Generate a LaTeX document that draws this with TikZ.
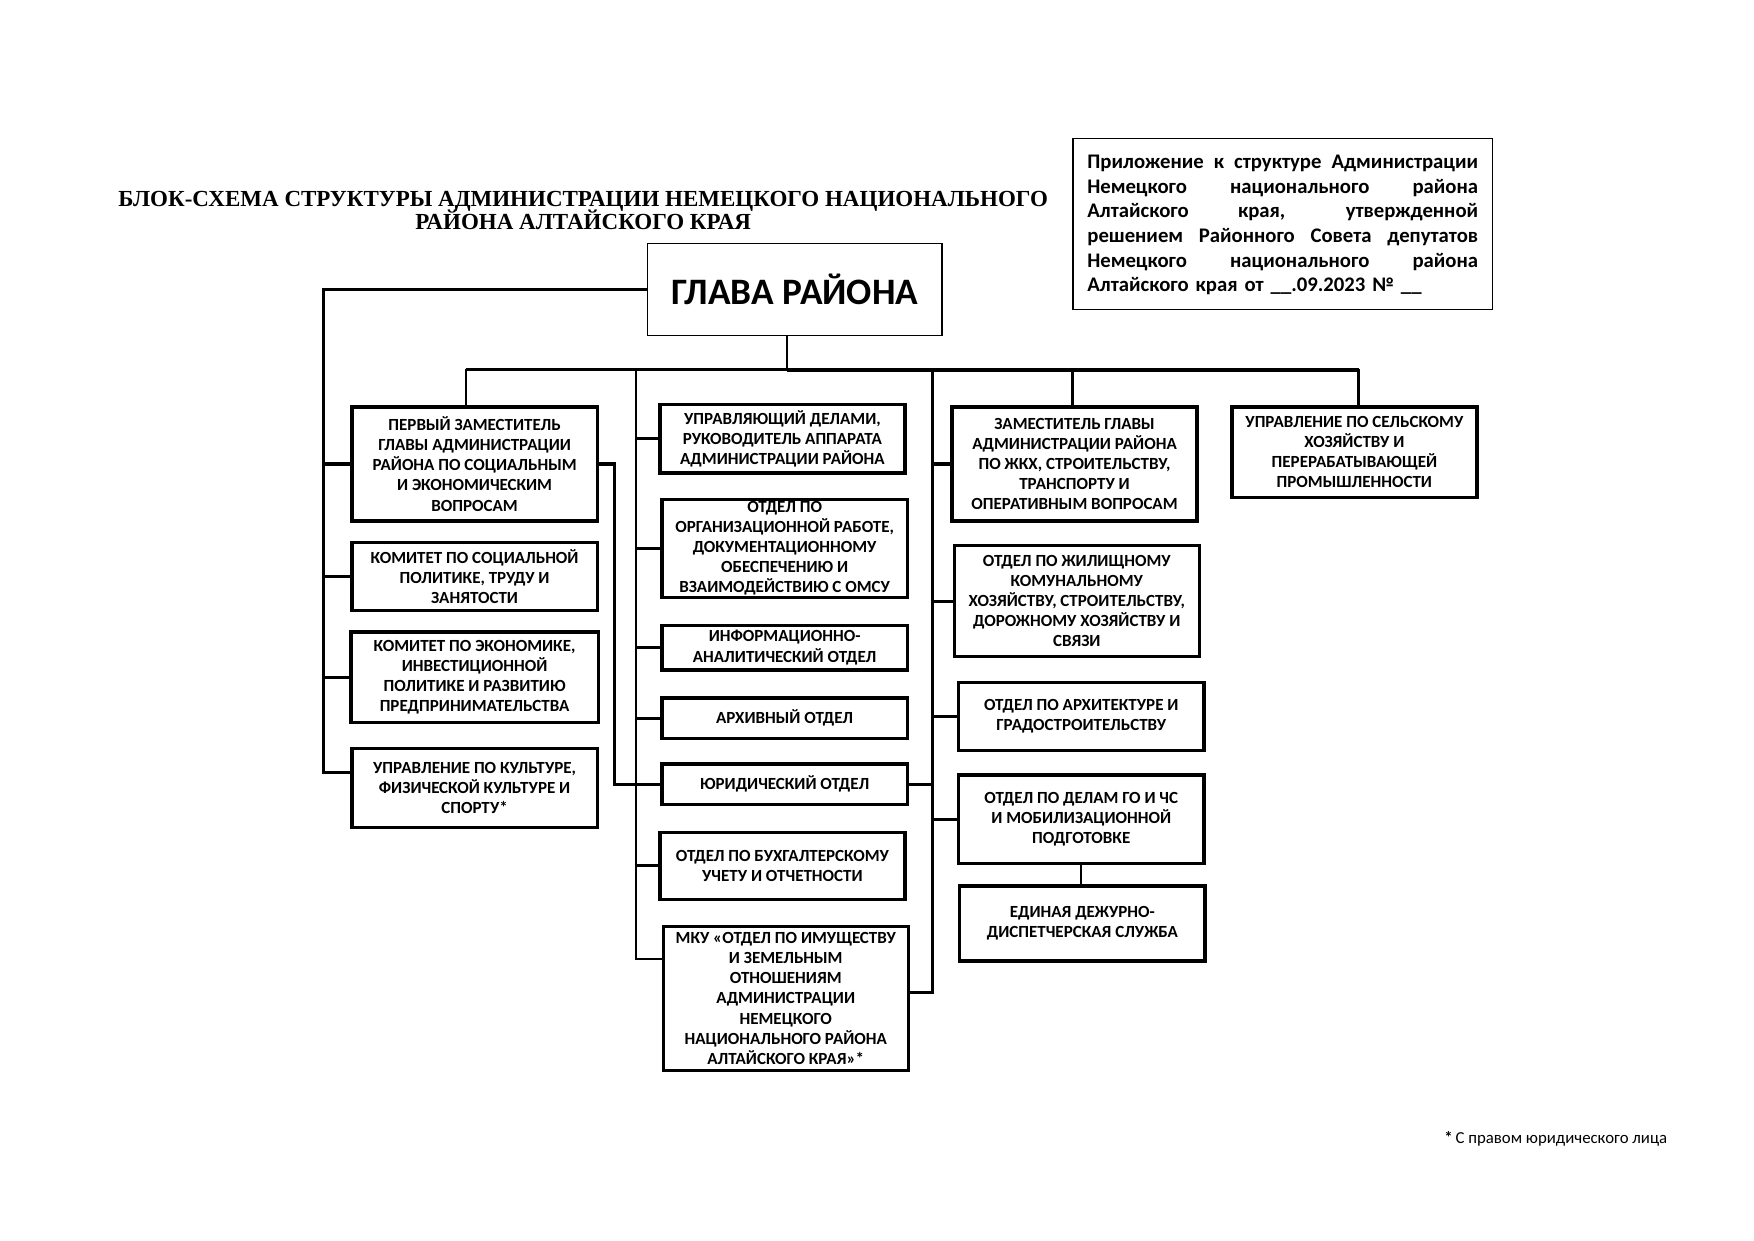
\documentclass[tikz,border=0pt]{standalone}
\usepackage{fontspec}
\setmainfont{Carlito}
\newfontfamily\titlefont{Liberation Serif}
\usetikzlibrary{calc}
\newcommand\jl[1]{\makebox[188.5pt][s]{\spaceskip=0pt\relax\xspaceskip=0pt\relax #1}}
\newcommand\tightlines{\lineskiplimit=-20pt\relax\lineskip=0pt\relax}
\begin{document}
\begin{tikzpicture}[x=0.54pt,y=-0.54pt,
  bx/.style={draw,line width=1.6pt,inner sep=0pt,align=center,
    font=\fontsize{8.2}{9.7}\selectfont\bfseries\tightlines},
  thinbx/.style={draw,line width=0.7pt,inner sep=0pt},
  ln/.style={line width=1.5pt},
  thinln/.style={line width=1.1pt}]
\useasboundingbox (0,0) rectangle (1567,1108);

% title
\node[align=center,font=\titlefont\fontsize{11.1}{11}\selectfont\bfseries\tightlines] (title) at (521,188)
 {БЛОК-СХЕМА СТРУКТУРЫ АДМИНИСТРАЦИИ НЕМЕЦКОГО НАЦИОНАЛЬНОГО\\РАЙОНА АЛТАЙСКОГО КРАЯ};

% note box
\node[thinbx,minimum width=375*0.54pt,minimum height=153*0.54pt] (note) at (1146,200) {};
\node[text width=188.5pt,align=left,inner sep=0pt,font=\fontsize{10}{11.9}\selectfont\bfseries] (notetext) at (1146,201)
 {\jl{Приложение к структуре Администрации}\\
  \jl{Немецкого национального района}\\
  \jl{Алтайского края, утвержденной}\\
  \jl{решением Районного Совета депутатов}\\
  \jl{Немецкого национального района}\\
  Алтайского края от \_\_.09.2023 № \_\_};

% head
\node[thinbx,minimum width=263*0.54pt,minimum height=82*0.54pt,font=\fontsize{18}{20}\selectfont\bfseries] (glava) at (710,258.5) {ГЛАВА РАЙОНА};

% left column
\node[bx,minimum width=219*0.54pt,minimum height=102*0.54pt] (fd) at (424,414.5)
 {ПЕРВЫЙ ЗАМЕСТИТЕЛЬ\\ГЛАВЫ АДМИНИСТРАЦИИ\\РАЙОНА ПО СОЦИАЛЬНЫМ\\И ЭКОНОМИЧЕСКИМ\\ВОПРОСАМ};
\node[bx,minimum width=219*0.54pt,minimum height=61*0.54pt] (ks) at (424,515)
 {КОМИТЕТ ПО СОЦИАЛЬНОЙ\\ПОЛИТИКЕ, ТРУДУ И\\ЗАНЯТОСТИ};
\node[bx,minimum width=221*0.54pt,minimum height=81*0.54pt] (ke) at (424,605)
 {КОМИТЕТ ПО ЭКОНОМИКЕ,\\ИНВЕСТИЦИОННОЙ\\ПОЛИТИКЕ И РАЗВИТИЮ\\ПРЕДПРИНИМАТЕЛЬСТВА};
\node[bx,minimum width=219*0.54pt,minimum height=71*0.54pt] (uk) at (424,704)
 {УПРАВЛЕНИЕ ПО КУЛЬТУРЕ,\\ФИЗИЧЕСКОЙ КУЛЬТУРЕ И\\СПОРТУ*};

% middle column
\node[bx,minimum width=219*0.54pt,minimum height=61*0.54pt] (ud) at (699,392)
 {УПРАВЛЯЮЩИЙ ДЕЛАМИ,\\РУКОВОДИТЕЛЬ АППАРАТА\\АДМИНИСТРАЦИИ РАЙОНА};
\node[bx,minimum width=219*0.54pt,minimum height=87*0.54pt] (org) at (701,490)
 {ОТДЕЛ ПО\\ОРГАНИЗАЦИОННОЙ РАБОТЕ,\\ДОКУМЕНТАЦИОННОМУ\\ОБЕСПЕЧЕНИЮ И\\ВЗАИМОДЕЙСТВИЮ С ОМСУ};
\node[bx,minimum width=219*0.54pt,minimum height=40*0.54pt] (inf) at (701,578.5)
 {ИНФОРМАЦИОННО-\\АНАЛИТИЧЕСКИЙ ОТДЕЛ};
\node[bx,minimum width=219*0.54pt,minimum height=36*0.54pt] (arh) at (701,641.5)
 {АРХИВНЫЙ ОТДЕЛ};
\node[bx,minimum width=219*0.54pt,minimum height=36*0.54pt] (jur) at (701,700.5)
 {ЮРИДИЧЕСКИЙ ОТДЕЛ};
\node[bx,minimum width=219*0.54pt,minimum height=60*0.54pt] (buh) at (699,773.5)
 {ОТДЕЛ ПО БУХГАЛТЕРСКОМУ\\УЧЕТУ И ОТЧЕТНОСТИ};
\node[bx,minimum width=219*0.54pt,minimum height=129*0.54pt] (mku) at (702,892)
 {МКУ «ОТДЕЛ ПО ИМУЩЕСТВУ\\И ЗЕМЕЛЬНЫМ\\ОТНОШЕНИЯМ\\АДМИНИСТРАЦИИ\\НЕМЕЦКОГО\\НАЦИОНАЛЬНОГО РАЙОНА\\АЛТАЙСКОГО КРАЯ»*};

% right column
\node[bx,minimum width=219*0.54pt,minimum height=102*0.54pt] (zg) at (960,414.5)
 {ЗАМЕСТИТЕЛЬ ГЛАВЫ\\АДМИНИСТРАЦИИ РАЙОНА\\ПО ЖКХ, СТРОИТЕЛЬСТВУ,\\ТРАНСПОРТУ И\\ОПЕРАТИВНЫМ ВОПРОСАМ};
\node[bx,minimum width=219*0.54pt,minimum height=99*0.54pt] (zhil) at (962,537)
 {ОТДЕЛ ПО ЖИЛИЩНОМУ\\КОМУНАЛЬНОМУ\\ХОЗЯЙСТВУ, СТРОИТЕЛЬСТВУ,\\ДОРОЖНОМУ ХОЗЯЙСТВУ И\\СВЯЗИ};
\node[bx,minimum width=219*0.54pt,minimum height=61*0.54pt] (arch) at (966,640)
 {ОТДЕЛ ПО АРХИТЕКТУРЕ И\\ГРАДОСТРОИТЕЛЬСТВУ};
\node[bx,minimum width=219*0.54pt,minimum height=79*0.54pt] (go) at (966,732)
 {ОТДЕЛ ПО ДЕЛАМ ГО И ЧС\\И МОБИЛИЗАЦИОННОЙ\\ПОДГОТОВКЕ};
\node[bx,minimum width=219*0.54pt,minimum height=67*0.54pt] (edds) at (967,825)
 {ЕДИНАЯ ДЕЖУРНО-\\ДИСПЕТЧЕРСКАЯ СЛУЖБА};
\node[bx,minimum width=219*0.54pt,minimum height=81*0.54pt] (sh) at (1210,404)
 {УПРАВЛЕНИЕ ПО СЕЛЬСКОМУ\\ХОЗЯЙСТВУ И\\ПЕРЕРАБАТЫВАЮЩЕЙ\\ПРОМЫШЛЕННОСТИ};

% footnote
\node[anchor=west,inner sep=0pt,font=\fontsize{8.1}{10}\selectfont] (foot) at (1290,1017)
 {\textbf{*}\,С правом юридического лица};

% bus coordinates
\coordinate (LB) at (289,0);
\coordinate (MB) at (568,0);
\coordinate (RB) at (833,0);
\coordinate (JB) at (549,0);
\coordinate (TB) at (0,330);
\coordinate (drop) at (703,0);
\coordinate (ukb) at (313,690);
\coordinate (mkub) at (591,857);
\coordinate (mkur) at (813,887);

% connectors
\draw[thinln] (glava.south -| drop) -- (drop |- TB);
\draw[thinln] (416,330) -- (703,330);
\draw[ln] (703,330.5) -- (1214,330.5);
\draw[thinln] (416,330) -- (fd.north -| 416,0);
\draw[ln] (958,330) -- (zg.north -| 958,0);
\draw[ln] (1214,330) -- (sh.north -| 1214,0);

\draw[ln] (glava.west) -- (glava.west -| LB) -- (ukb -| LB) -- (ukb);
\draw[ln] (fd.west -| LB) -- (fd.west);
\draw[ln] (ks.west -| LB) -- (ks.west);
\draw[ln] (ke.west -| LB) -- (ke.west);

\draw[thinln] (MB |- TB) -- (mkub -| MB) -- (mkub);
\draw[ln] (ud.west -| MB) -- (ud.west);
\draw[ln] (org.west -| MB) -- (org.west);
\draw[ln] (inf.west -| MB) -- (inf.west);
\draw[ln] (arh.west -| MB) -- (arh.west);
\draw[ln] (buh.west -| MB) -- (buh.west);

\draw[ln] (fd.east) -- (fd.east -| JB) -- (jur.west -| JB) -- (jur.west);

\draw[ln] (RB |- TB) -- (mkur -| RB) -- (mkur);
\draw[ln] (zg.west -| RB) -- (zg.west);
\draw[ln] (zhil.west -| RB) -- (zhil.west);
\draw[ln] (arch.west -| RB) -- (arch.west);
\draw[ln] (go.west -| RB) -- (go.west);
\draw[ln] (jur.east) -- (jur.east -| RB);
\draw[thinln] (go.south) -- (go.south |- edds.north);
\end{tikzpicture}
\end{document}
